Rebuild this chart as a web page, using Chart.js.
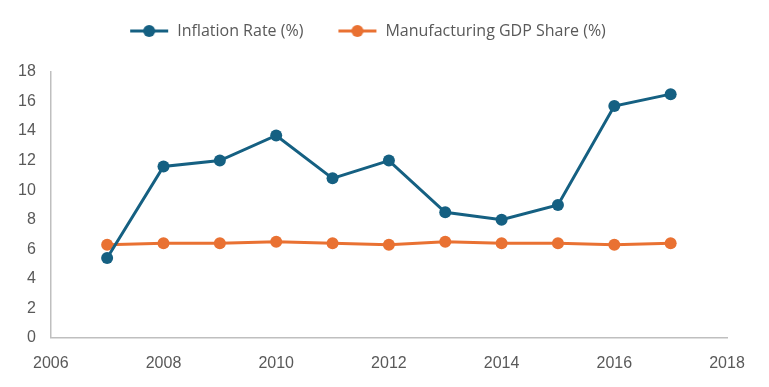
<!DOCTYPE html>
<html>
<head>
<meta charset="utf-8">
<script src="https://cdn.jsdelivr.net/npm/chart.js@4"></script>
<style>
  html, body { margin: 0; padding: 0; background: #fff; }
  #wrap { width: 769px; height: 387px; }
</style>
</head>
<body>
<div id="wrap"><canvas id="grafico"></canvas></div>
<script>
const anos = [2007, 2008, 2009, 2010, 2011, 2012, 2013, 2014, 2015, 2016, 2017]
const inflacao = [5.4, 11.6, 12.0, 13.7, 10.8, 12.0, 8.5, 8.0, 9.0, 15.7, 16.5]
const manufatura = [6.3, 6.4, 6.4, 6.5, 6.4, 6.3, 6.5, 6.4, 6.4, 6.3, 6.4]
const nomes = ['Inflation Rate (%)', 'Manufacturing GDP Share (%)']
const cores = ['#156082', '#E97132']

const margemIcone = 17

// icone da legenda: linha com bolinha (com folga transparente a esquerda)
function iconeLegenda(cor) {
    const c = document.createElement('canvas')
    c.width = 40 + margemIcone
    c.height = 14
    const ctx = c.getContext('2d')
    ctx.strokeStyle = cor
    ctx.lineWidth = 3
    ctx.beginPath()
    ctx.moveTo(margemIcone + 1, 7)
    ctx.lineTo(margemIcone + 39, 7)
    ctx.stroke()
    ctx.fillStyle = cor
    ctx.beginPath()
    ctx.arc(margemIcone + 20, 7, 6, 0, Math.PI * 2)
    ctx.fill()
    return c
}

// deixa um espaco maior entre a legenda e o grafico
// e compensa a folga do primeiro icone
const espacoLegenda = {
    id: 'espacoLegenda',
    beforeLayout(chart) {
        const leg = chart.legend
        if (leg && !leg._ajustado) {
            const fitOriginal = leg.fit
            leg.fit = function () {
                fitOriginal.call(this)
                this.height += 23
            }
            const drawOriginal = leg.draw
            leg.draw = function () {
                const ctx = this.ctx
                ctx.save()
                ctx.translate(-margemIcone / 2, 0)
                drawOriginal.apply(this, arguments)
                ctx.restore()
            }
            leg._ajustado = true
        }
    }
}

const ponto = (xs, ys) => xs.map((x, i) => ({ x: x, y: ys[i] }))

const fonteEixo = { family: "'Liberation Sans', Arial, sans-serif", size: 16 }

new Chart(document.getElementById('grafico'), {
    type: 'line',
    data: {
        datasets: [{
            label: nomes[0],
            data: ponto(anos, inflacao),
            borderColor: cores[0],
            backgroundColor: cores[0],
            borderWidth: 3,
            pointRadius: 6,
            pointBorderWidth: 0,
            pointHoverRadius: 6,
            tension: 0
        }, {
            label: nomes[1],
            data: ponto(anos, manufatura),
            borderColor: cores[1],
            backgroundColor: cores[1],
            borderWidth: 3,
            pointRadius: 6,
            pointBorderWidth: 0,
            pointHoverRadius: 6,
            tension: 0
        }]
    },
    plugins: [espacoLegenda],
    options: {
        responsive: true,
        maintainAspectRatio: false,
        animation: false,
        layout: { padding: { left: 8, right: 42, top: 6, bottom: 3 } },
        plugins: {
            legend: {
                position: 'top',
                labels: {
                    usePointStyle: true,
                    pointStyleWidth: 40 + margemIcone,
                    padding: 17,
                    color: '#595959',
                    font: { family: "'Open Sans', sans-serif", size: 16 },
                    generateLabels: chart => chart.data.datasets.map((d, i) => ({
                        text: d.label,
                        fontColor: '#595959',
                        pointStyle: iconeLegenda(cores[i]),
                        datasetIndex: i,
                        lineWidth: 0,
                        hidden: false
                    }))
                }
            },
            tooltip: { enabled: false }
        },
        scales: {
            x: {
                type: 'linear',
                min: 2006,
                max: 2018,
                ticks: {
                    stepSize: 2,
                    color: '#595959',
                    padding: 11,
                    font: fonteEixo,
                    callback: v => String(v)
                },
                grid: { display: false, drawTicks: true, tickLength: 5, tickColor: '#bfbfbf' },
                border: { display: true, color: '#bfbfbf', width: 1.5 }
            },
            y: {
                min: 0,
                max: 18,
                ticks: {
                    stepSize: 2,
                    color: '#595959',
                    padding: 10,
                    font: fonteEixo
                },
                grid: { display: false, drawTicks: true, tickLength: 5, tickColor: '#bfbfbf' },
                border: { display: true, color: '#bfbfbf', width: 1.5 }
            }
        }
    }
})
</script>
</body>
</html>
